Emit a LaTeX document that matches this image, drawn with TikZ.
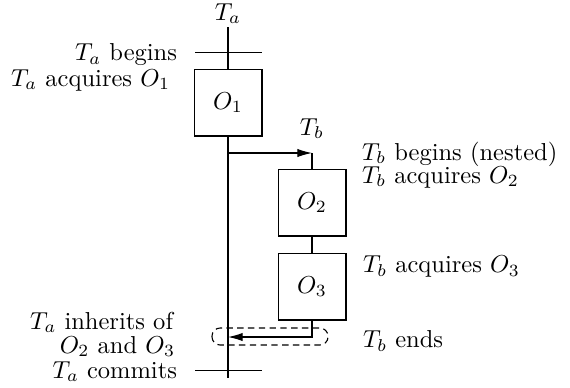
\documentclass[tikz,border=0pt]{standalone}
\usetikzlibrary{arrows.meta}
\begin{document}
\begin{tikzpicture}[x=0.408pt,y=-0.408pt,
  objbox/.style={draw,line width=0.45pt,minimum width=27.7pt,minimum height=27.3pt,inner sep=0pt,outer sep=0pt},
  ln/.style={line width=0.45pt},
  arr/.style={line width=0.45pt,-{Latex[length=6pt,width=3.4pt]}},
  lbl/.style={inner sep=0pt,outer sep=0pt}]
\useasboundingbox (0,0) rectangle (570,387);
% Ta line
\node[lbl,anchor=base] (ta) at (228,20) {$T_a$};
\coordinate (tatop) at (228,27);
\coordinate (tabot) at (228,378);
\node[objbox] (o1) at (228,102.5) {$O_1$};
\draw[ln] (tatop) -- (o1.north);
\draw[ln] (o1.south) -- (tabot);
\coordinate (t1l) at (195,52.7); \coordinate (t1r) at (262,52.7);
\draw[ln] (t1l) -- (t1r);
\coordinate (t2l) at (195,370.5); \coordinate (t2r) at (262,370.5);
\draw[ln] (t2l) -- (t2r);
% Tb
\coordinate (fork) at (228,153);
\coordinate (corner) at (312,153);
\node[lbl,anchor=base] (tb) at (312,135) {$T_b$};
\node[objbox] (o2) at (312,202.5) {$O_2$};
\node[objbox] (o3) at (312,286.5) {$O_3$};
\draw[arr] (fork) -- (corner);
\draw[ln] (corner) -- (o2.north);
\draw[ln] (o2.south) -- (o3.north);
\coordinate (join) at (228,337);
\draw[arr] (o3.south) |- (join);
\draw[dashed,dash pattern=on 2.6pt off 1.8pt,line width=0.45pt,rounded corners=3.3pt] (212,328) rectangle (328,345);
% left labels
\node[lbl,anchor=base east] (l1) at (177,60.5) {$T_a$ begins};
\node[lbl,anchor=base east] (l2) at (170,86) {$T_a$ acquires $O_1$};
\node[lbl,anchor=base east] (l3) at (173,329) {$T_a$ inherits of};
\node[lbl,anchor=base east] (l4) at (175,353) {$O_2$ and $O_3$};
\node[lbl,anchor=base east] (l5) at (177,378) {$T_a$ commits};
% right labels
\node[lbl,anchor=base west] (r1) at (362,160) {$T_b$ begins (nested)};
\node[lbl,anchor=base west] (r2) at (362,183) {$T_b$ acquires $O_2$};
\node[lbl,anchor=base west] (r3) at (363,272.5) {$T_b$ acquires $O_3$};
\node[lbl,anchor=base west] (r4) at (363,347.5) {$T_b$ ends};
\end{tikzpicture}
\end{document}
